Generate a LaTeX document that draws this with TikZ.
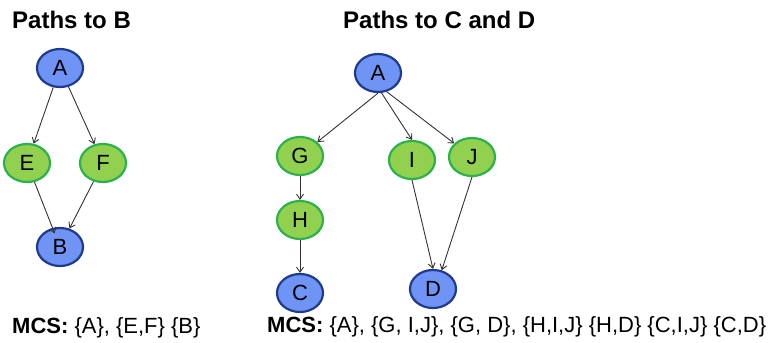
\documentclass[tikz,border=0pt]{standalone}
\usepackage{fontspec}
\setmainfont{Liberation Sans}
\usepackage{tikz}
\usetikzlibrary{arrows.meta,shapes.geometric}
\definecolor{blueFill}{HTML}{6F94F6}
\definecolor{blueLine}{HTML}{1F3C8C}
\definecolor{greenFill}{HTML}{92D050}
\definecolor{greenLine}{HTML}{2BB24C}
\definecolor{edgeGray}{HTML}{333333}
\tikzset{
  >={Straight Barb[length=5pt,width=7pt]},
  line cap=round,
  line join=round,
  vertex/.style={ellipse, line width=2.2pt, minimum width=46pt, minimum height=38pt,
    inner sep=0pt, font=\fontsize{22}{26}\selectfont},
  bluevertex/.style={vertex, draw=blueLine, fill=blueFill},
  greenvertex/.style={vertex, draw=greenLine, fill=greenFill},
  edge/.style={->, draw=edgeGray, line width=0.9pt},
  title/.style={anchor=base west, inner sep=0pt, font=\fontsize{24}{28}\selectfont\bfseries},
  mcs/.style={anchor=base west, inner sep=0pt, font=\fontsize{22}{26}\selectfont}
}

\begin{document}
\begin{tikzpicture}[x=1pt,y=-1pt]
  \useasboundingbox (0,0) rectangle (772,343);

  % paths to B
  \node[title] (titleB) at (12,28) {Paths to B};
  \node[bluevertex] (A1) at (60,68) {A};
  \node[greenvertex] (E) at (27,163) {E};
  \node[greenvertex] (F) at (103,163) {F};
  \node[bluevertex] (B) at (60,247) {B};

  \draw[edge] (A1) -- (E);
  \draw[edge] (A1) -- (F);
  \draw[edge,shorten >=-6pt] (E) -- (B);
  \draw[edge] (F) -- (B);

  \node[mcs] (mcsB) at (12,333) {\textbf{MCS:} \{A\}, \{E,F\} \{B\}};

  % paths to C and D
  \node[title] (titleCD) at (343,28) {Paths to C and D};
  \node[bluevertex] (A2) at (378,73) {A};
  \node[greenvertex] (G) at (300,156) {G};
  \node[greenvertex] (I) at (412,160) {I};
  \node[greenvertex] (J) at (472,157) {J};
  \node[greenvertex] (H) at (300,220) {H};
  \node[bluevertex] (C) at (300,293) {C};
  \node[bluevertex] (D) at (433,289) {D};

  \draw[edge] (A2.south) -- (G);
  \draw[edge] (A2.-80) -- (I.north);
  \draw[edge] (A2.-65) -- (J);
  \draw[edge] (G) -- (H);
  \draw[edge] (H) -- (C);
  \draw[edge] (I.south) -- (D.north);
  \draw[edge] (J.south) -- (D.65);

  \node[mcs] (mcsCD) at (267,332) {\textbf{MCS:} \{A\}, \{G, I,J\}, \{G, D\}, \{H,I,J\} \{H,D\} \{C,I,J\} \{C,D\}};
\end{tikzpicture}
\end{document}
